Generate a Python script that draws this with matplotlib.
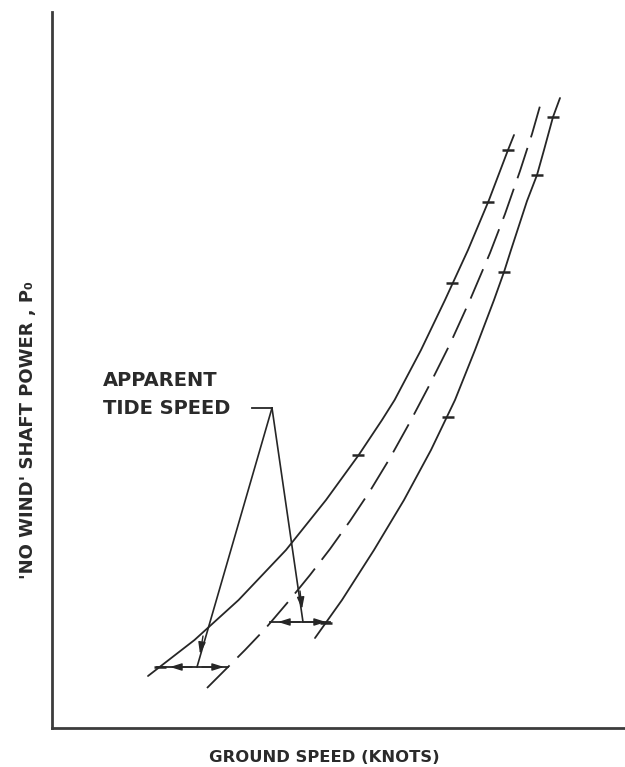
import matplotlib
matplotlib.use("Agg")
import matplotlib.pyplot as plt

plt.rcParams['lines.scale_dashes'] = False
plt.rcParams['font.family'] = ['DejaVu Sans']

# ---- data (arbitrary units: speed, power) ----
upper_speed = [96, 142.5, 186.6, 234, 274, 306.7, 330, 342.6, 369, 393, 416, 437, 456, 462]
upper_power = [52, 88, 128, 178, 228, 273, 308, 328, 378, 428, 478, 528, 578, 593]
upper_pts_speed = [108, 306, 400, 436, 456]
upper_pts_power = [61, 273, 445, 526, 578]

lower_speed = [263, 290, 322, 352, 379, 403, 423, 442, 452, 459, 475, 485, 492, 501, 508]
lower_power = [90, 128, 178, 228, 278, 328, 378, 428, 456, 478, 527, 553, 578, 611, 630]
lower_pts_speed = [274, 396, 452, 485, 501]
lower_pts_power = [105, 311, 456, 553, 611]

mean_speed = [155, 173, 193, 213, 236, 258, 278, 298, 318, 338, 358, 378, 398,
              418, 438, 453, 468, 480, 488]
mean_power = [40, 58, 78, 99, 126, 153, 179, 207, 237, 270, 306, 344, 384,
              428, 475, 514, 557, 594, 622]

xlabel = "GROUND SPEED (KNOTS)"
ylabel = "'NO WIND' SHAFT POWER , P\u2080"
note_lines = ["APPARENT", "TIDE SPEED"]

W, H = 625, 767
fig = plt.figure(figsize=(W / 100, H / 100), dpi=100)
ax = fig.add_axes([52 / W, (H - 728) / H, (W - 52) / W, (728 - 12) / H])
ax.set_xlim(0, 573)
ax.set_ylim(0, 716)
for s in ['top', 'right']:
    ax.spines[s].set_visible(False)
for s in ['left', 'bottom']:
    ax.spines[s].set_color('#3c3c3c')
    ax.spines[s].set_linewidth(2.0)
ax.set_xticks([])
ax.set_yticks([])

lc = '#262626'
lw = 1.3
ax.plot(upper_speed, upper_power, color=lc, lw=lw, solid_capstyle='round',
        solid_joinstyle='round')
ax.plot(lower_speed, lower_power, color=lc, lw=lw, solid_capstyle='round',
        solid_joinstyle='round')
ax.plot(mean_speed, mean_power, color=lc, lw=lw, linestyle=(0, (23, 8)))
ax.plot(upper_pts_speed, upper_pts_power, linestyle='none', marker='_',
        markersize=8, mew=1.8, color=lc)
ax.plot(lower_pts_speed, lower_pts_power, linestyle='none', marker='_',
        markersize=8, mew=1.8, color=lc)

# ---- annotation: apparent tide speed ----
apex = (220, 320)
ax.plot([200, apex[0]], [320, 320], color=lc, lw=1.3)
head = '-|>,head_length=0.7,head_width=0.22'
# left leader
ax.plot([apex[0], 145], [apex[1], 61], color=lc, lw=1.2)
ax.annotate('', xy=(148, 74), xytext=(151, 92),
            arrowprops=dict(arrowstyle=head, color=lc, lw=1.0, shrinkA=0, shrinkB=0))
# right leader
ax.plot([apex[0], 251], [apex[1], 106], color=lc, lw=1.2)
ax.annotate('', xy=(250, 119), xytext=(248, 137),
            arrowprops=dict(arrowstyle=head, color=lc, lw=1.0, shrinkA=0, shrinkB=0))

arrow_kw = dict(arrowstyle=head, color=lc, lw=1.0, shrinkA=0, shrinkB=0)
# lower double arrow
ax.plot([105, 176], [61, 61], color=lc, lw=1.3)
ax.annotate('', xy=(118, 61), xytext=(140, 61), arrowprops=arrow_kw)
ax.annotate('', xy=(172, 61), xytext=(150, 61), arrowprops=arrow_kw)
# upper double arrow
ax.plot([218, 278], [106, 106], color=lc, lw=1.3)
ax.annotate('', xy=(226, 106), xytext=(248, 106), arrowprops=arrow_kw)
ax.annotate('', xy=(274, 106), xytext=(252, 106), arrowprops=arrow_kw)

ax.text(51, 348, note_lines[0], fontsize=14, fontweight='bold', color='#2a2a2a',
        ha='left', va='center')
ax.text(51, 320, note_lines[1], fontsize=14, fontweight='bold', color='#2a2a2a',
        ha='left', va='center')

fig.text(324 / W, 1 - 757 / H, xlabel, fontsize=11.8, fontweight='bold',
         color='#2a2a2a', ha='center', va='center')
fig.text(28 / W, 1 - 430 / H, ylabel, fontsize=13, fontweight='bold',
         color='#2a2a2a', ha='center', va='center', rotation=90)

fig.savefig('out.png', dpi=100, facecolor='white')
